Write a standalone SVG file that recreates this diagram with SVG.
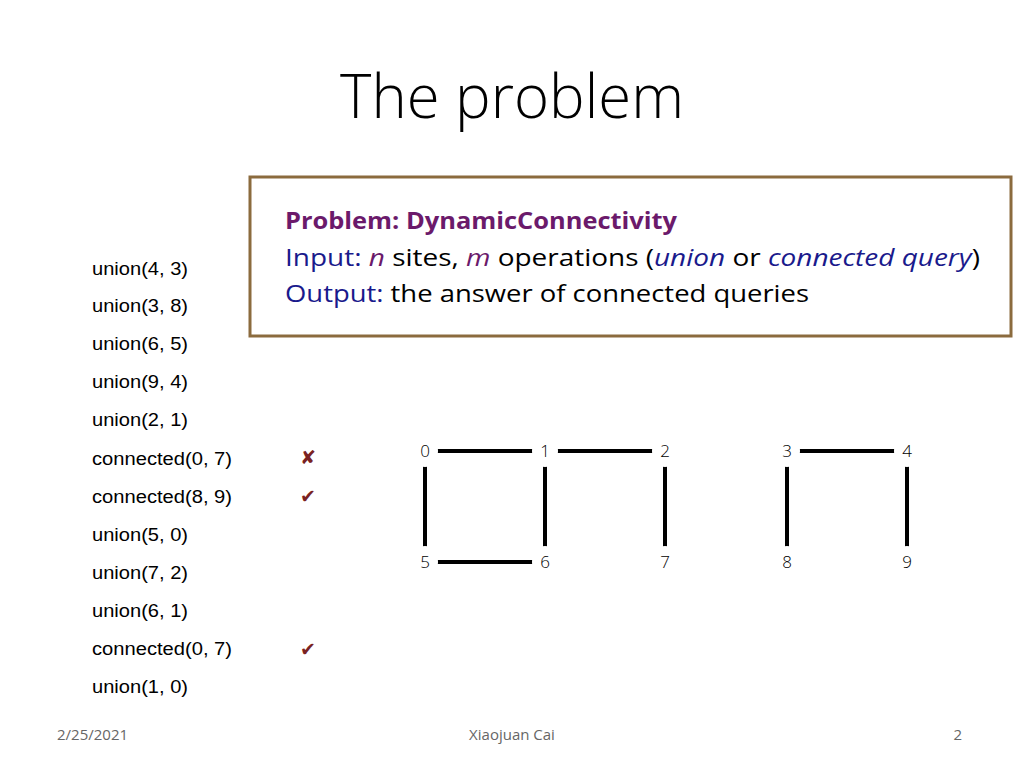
<svg xmlns="http://www.w3.org/2000/svg" width="1024" height="768" viewBox="0 0 1024 768">
<style>
.op{font-family:"Liberation Sans",Arial,sans-serif;font-size:18px;fill:#000}
.bx{font-family:"Open Sans","Noto Sans",sans-serif;font-size:24px;fill:#000}
.nl{font-family:"Open Sans","Noto Sans",sans-serif;font-size:17px;font-weight:300;fill:#000;text-anchor:middle}
.mk{font-family:"DejaVu Sans",sans-serif;font-size:19px;fill:#7a2222}
.ft{font-family:"Open Sans","Noto Sans",sans-serif;font-size:15px;fill:#666}
.e{stroke:#000;stroke-width:4}
.c{fill:#fff;stroke:none}
</style>
<rect width="1024" height="768" fill="#fff"/>
<text x="512" y="118" text-anchor="middle" font-family="Open Sans, Noto Sans, sans-serif" font-size="60" font-weight="300" textLength="344" lengthAdjust="spacingAndGlyphs">The problem</text>
<rect x="250" y="177" width="761" height="159" fill="#fff" stroke="#8b6b3e" stroke-width="3"/>
<text class="bx" x="285" y="229" font-weight="bold" style="fill:#6b1a6b" textLength="392" lengthAdjust="spacingAndGlyphs">Problem: DynamicConnectivity</text>
<text class="bx" x="285" y="266" textLength="695" lengthAdjust="spacingAndGlyphs"><tspan style="fill:#1a1a8c">Input: </tspan><tspan font-style="italic" style="fill:#6b1a6b">n</tspan> sites, <tspan font-style="italic" style="fill:#6b1a6b">m</tspan> operations (<tspan font-style="italic" style="fill:#1a1a8c">union</tspan> or <tspan font-style="italic" style="fill:#1a1a8c">connected query</tspan>)</text>
<text class="bx" x="285" y="302" textLength="524" lengthAdjust="spacingAndGlyphs"><tspan style="fill:#1a1a8c">Output:</tspan> the answer of connected queries</text>
<g id="ops">
<text class="op" x="92" y="275" textLength="96" lengthAdjust="spacingAndGlyphs">union(4, 3)</text>
<text class="op" x="92" y="312" textLength="96" lengthAdjust="spacingAndGlyphs">union(3, 8)</text>
<text class="op" x="92" y="350" textLength="96" lengthAdjust="spacingAndGlyphs">union(6, 5)</text>
<text class="op" x="92" y="388" textLength="96" lengthAdjust="spacingAndGlyphs">union(9, 4)</text>
<text class="op" x="92" y="426" textLength="96" lengthAdjust="spacingAndGlyphs">union(2, 1)</text>
<text class="op" x="92" y="465" textLength="140" lengthAdjust="spacingAndGlyphs">connected(0, 7)</text>
<text class="op" x="92" y="503" textLength="140" lengthAdjust="spacingAndGlyphs">connected(8, 9)</text>
<text class="op" x="92" y="541" textLength="96" lengthAdjust="spacingAndGlyphs">union(5, 0)</text>
<text class="op" x="92" y="579" textLength="96" lengthAdjust="spacingAndGlyphs">union(7, 2)</text>
<text class="op" x="92" y="617" textLength="96" lengthAdjust="spacingAndGlyphs">union(6, 1)</text>
<text class="op" x="92" y="655" textLength="140" lengthAdjust="spacingAndGlyphs">connected(0, 7)</text>
<text class="op" x="92" y="693" textLength="96" lengthAdjust="spacingAndGlyphs">union(1, 0)</text>
<text class="mk" x="300" y="464">✘</text>
<text class="mk" x="300" y="503">✔</text>
<text class="mk" x="300" y="656">✔</text>
</g>
<g id="connectors">
<line class="e" x1="425" y1="451" x2="545" y2="451"/>
<line class="e" x1="545" y1="451" x2="665" y2="451"/>
<line class="e" x1="787" y1="451" x2="907" y2="451"/>
<line class="e" x1="425" y1="451" x2="425" y2="562"/>
<line class="e" x1="545" y1="451" x2="545" y2="562"/>
<line class="e" x1="665" y1="451" x2="665" y2="562"/>
<line class="e" x1="787" y1="451" x2="787" y2="562"/>
<line class="e" x1="907" y1="451" x2="907" y2="562"/>
<line class="e" x1="425" y1="562" x2="545" y2="562"/>
</g>
<g id="n0"><ellipse class="c" cx="425" cy="451" rx="13" ry="16"/><text class="nl" x="425" y="457">0</text></g>
<g id="n1"><ellipse class="c" cx="545" cy="451" rx="13" ry="16"/><text class="nl" x="545" y="457">1</text></g>
<g id="n2"><ellipse class="c" cx="665" cy="451" rx="13" ry="16"/><text class="nl" x="665" y="457">2</text></g>
<g id="n3"><ellipse class="c" cx="787" cy="451" rx="13" ry="16"/><text class="nl" x="787" y="457">3</text></g>
<g id="n4"><ellipse class="c" cx="907" cy="451" rx="13" ry="16"/><text class="nl" x="907" y="457">4</text></g>
<g id="n5"><ellipse class="c" cx="425" cy="562" rx="13" ry="16"/><text class="nl" x="425" y="568">5</text></g>
<g id="n6"><ellipse class="c" cx="545" cy="562" rx="13" ry="16"/><text class="nl" x="545" y="568">6</text></g>
<g id="n7"><ellipse class="c" cx="665" cy="562" rx="13" ry="16"/><text class="nl" x="665" y="568">7</text></g>
<g id="n8"><ellipse class="c" cx="787" cy="562" rx="13" ry="16"/><text class="nl" x="787" y="568">8</text></g>
<g id="n9"><ellipse class="c" cx="907" cy="562" rx="13" ry="16"/><text class="nl" x="907" y="568">9</text></g>
<text class="ft" x="57" y="740">2/25/2021</text>
<text class="ft" x="512" y="740" text-anchor="middle">Xiaojuan Cai</text>
<text class="ft" x="962" y="740" text-anchor="end">2</text>
</svg>
